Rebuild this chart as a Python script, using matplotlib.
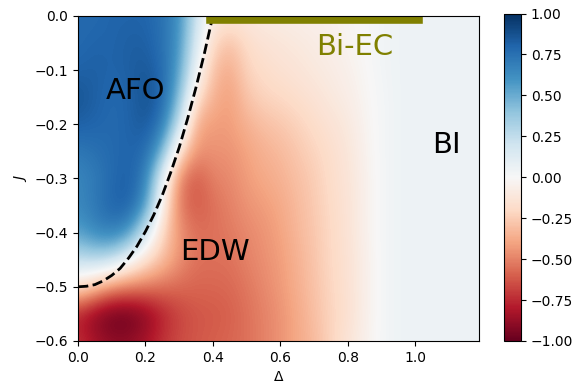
import numpy as np
import matplotlib.pyplot as plt

# grid of the order parameter: rows J = 0.00 ... -0.60, columns Delta = 0.00 ... 1.20 (step 0.05)
delta = np.arange(0, 1.2001, 0.05)
J = np.arange(0, -0.6001, -0.05)
Z = np.array([
    [0.78, 0.78, 0.80, 0.80, 0.80, 0.75, 0.62, 0.22, -0.08, -0.10, -0.10, -0.08, -0.07, -0.06, -0.05, -0.04, -0.02, 0.00, 0.03, 0.05, 0.05, 0.05, 0.05, 0.05, 0.05],
    [0.78, 0.80, 0.80, 0.82, 0.82, 0.75, 0.60, 0.15, -0.20, -0.30, -0.18, -0.14, -0.12, -0.10, -0.08, -0.06, -0.03, 0.00, 0.03, 0.05, 0.05, 0.05, 0.05, 0.05, 0.05],
    [0.80, 0.82, 0.80, 0.82, 0.85, 0.78, 0.55, 0.05, -0.30, -0.38, -0.22, -0.18, -0.15, -0.13, -0.10, -0.08, -0.05, -0.01, 0.03, 0.05, 0.05, 0.05, 0.05, 0.05, 0.05],
    [0.87, 0.82, 0.78, 0.80, 0.88, 0.80, 0.45, -0.15, -0.35, -0.42, -0.28, -0.22, -0.20, -0.17, -0.14, -0.10, -0.07, -0.02, 0.02, 0.05, 0.05, 0.05, 0.05, 0.05, 0.05],
    [0.82, 0.80, 0.78, 0.80, 0.85, 0.72, 0.25, -0.38, -0.42, -0.42, -0.35, -0.30, -0.27, -0.23, -0.18, -0.14, -0.10, -0.03, 0.02, 0.05, 0.05, 0.05, 0.05, 0.05, 0.05],
    [0.72, 0.75, 0.78, 0.80, 0.78, 0.50, -0.15, -0.45, -0.45, -0.45, -0.40, -0.35, -0.32, -0.27, -0.22, -0.17, -0.12, -0.04, 0.02, 0.05, 0.05, 0.05, 0.05, 0.05, 0.05],
    [0.65, 0.70, 0.78, 0.82, 0.70, 0.10, -0.50, -0.62, -0.50, -0.48, -0.42, -0.38, -0.35, -0.30, -0.25, -0.18, -0.13, -0.05, 0.02, 0.05, 0.05, 0.05, 0.05, 0.05, 0.05],
    [0.65, 0.72, 0.80, 0.82, 0.60, -0.05, -0.52, -0.62, -0.55, -0.50, -0.45, -0.42, -0.38, -0.32, -0.26, -0.19, -0.14, -0.05, 0.02, 0.05, 0.05, 0.05, 0.05, 0.05, 0.05],
    [0.55, 0.65, 0.70, 0.60, 0.20, -0.20, -0.45, -0.55, -0.55, -0.52, -0.48, -0.45, -0.40, -0.33, -0.27, -0.20, -0.14, -0.05, 0.02, 0.05, 0.05, 0.05, 0.05, 0.05, 0.05],
    [0.25, 0.30, 0.25, 0.05, -0.15, -0.30, -0.45, -0.55, -0.55, -0.55, -0.50, -0.46, -0.42, -0.35, -0.28, -0.20, -0.15, -0.06, 0.02, 0.05, 0.05, 0.05, 0.05, 0.05, 0.05],
    [-0.15, -0.30, -0.45, -0.50, -0.52, -0.55, -0.57, -0.58, -0.58, -0.57, -0.53, -0.48, -0.43, -0.36, -0.29, -0.21, -0.15, -0.06, 0.02, 0.05, 0.05, 0.05, 0.05, 0.05, 0.05],
    [-0.80, -0.92, -1.00, -1.00, -0.92, -0.78, -0.68, -0.63, -0.62, -0.60, -0.55, -0.50, -0.45, -0.38, -0.30, -0.22, -0.16, -0.06, 0.02, 0.05, 0.05, 0.05, 0.05, 0.05, 0.05],
    [-0.72, -0.82, -0.88, -0.88, -0.82, -0.72, -0.65, -0.62, -0.60, -0.58, -0.55, -0.50, -0.45, -0.38, -0.32, -0.22, -0.13, -0.05, 0.02, 0.05, 0.05, 0.05, 0.05, 0.05, 0.05],
])

# AFO phase boundary
bound_delta = [0.0, 0.025, 0.05, 0.075, 0.1, 0.125, 0.15, 0.175, 0.2, 0.225, 0.25,
               0.275, 0.3, 0.325, 0.35, 0.375, 0.4]
bound_J = [-0.5, -0.499, -0.496, -0.489, -0.479, -0.466, -0.447, -0.425, -0.398, -0.367, -0.331,
           -0.289, -0.243, -0.19, -0.132, -0.069, 0.0]

# Bi-EC segment along J = 0
biec_delta = [0.4, 1.0]
biec_J = [0.0, 0.0]

fig = plt.figure(figsize=(5.78, 3.83), dpi=100)
ax = fig.add_axes([0.135, 0.1097, 0.694, 0.849])
cax = fig.add_axes([0.872, 0.1097, 0.0294, 0.855])

step = 0.05
im = ax.imshow(Z, cmap='RdBu', vmin=-1, vmax=1, aspect='auto', interpolation='bicubic',
               extent=(delta[0] - step / 2, delta[-1] + step / 2, J[-1] - step / 2, J[0] + step / 2))
ax.plot(bound_delta, bound_J, 'k--', lw=2)
ax.plot(biec_delta, biec_J, color='olive', lw=10.5)

ax.text(0.172, -0.153, 'AFO', fontsize=21, ha='center')
ax.text(0.407, -0.45, 'EDW', fontsize=21, ha='center')
ax.text(1.094, -0.253, 'BI', fontsize=21, ha='center')
ax.text(0.82, -0.072, 'Bi-EC', fontsize=21, ha='center', color='olive')

ax.set_xlim(0, 1.19)
ax.set_ylim(-0.6, 0)
ax.set_xticks(np.arange(0, 1.01, 0.2))
ax.set_yticks(np.arange(-0.6, 0.01, 0.1))
ax.set_xlabel(r'$\Delta$')
ax.set_ylabel(r'$J$')

cb = fig.colorbar(im, cax=cax)
cb.set_ticks(np.arange(-1, 1.01, 0.25))

fig.savefig('out.png', dpi=100)
